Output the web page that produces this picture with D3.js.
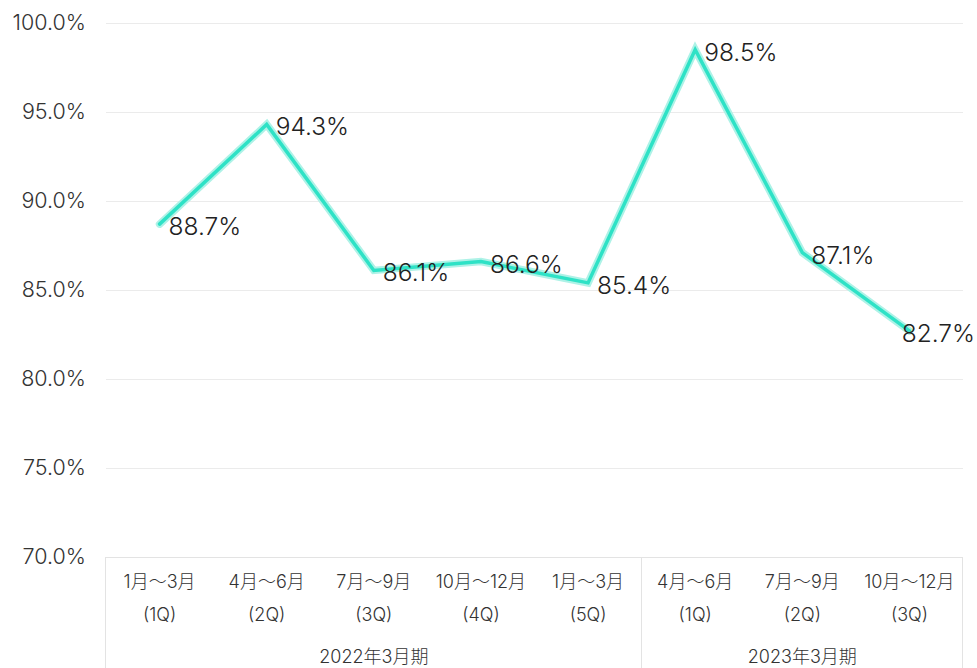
<!DOCTYPE html>
<html>
<head>
<meta charset="utf-8">
<script src="https://cdn.jsdelivr.net/npm/d3@7.9.0/dist/d3.min.js"></script>
<style>
  body { margin: 0; background: #fff; }
  svg { display: block; font-family: Inter, "Noto Sans CJK JP", sans-serif; }
</style>
</head>
<body>
<div id="chart"></div>
<script>
// ---------- DATA ----------
const quarters = ['1月～3月', '4月～6月', '7月～9月', '10月～12月', '1月～3月', '4月～6月', '7月～9月', '10月～12月'];
const quarterTags = ['(1Q)', '(2Q)', '(3Q)', '(4Q)', '(5Q)', '(1Q)', '(2Q)', '(3Q)'];
const values = [88.7, 94.3, 86.1, 86.6, 85.4, 98.5, 87.1, 82.7];
const periods = ['2022年3月期', '2023年3月期'];
const periodSpans = [5, 3];
const yTicks = [70, 75, 80, 85, 90, 95, 100];

// ---------- LAYOUT ----------
const width = 977;
const height = 668;
const margin = { top: 23, right: 14, bottom: 111, left: 106 };
const plot = {
  left: margin.left,
  right: width - margin.right,
  top: margin.top,
  bottom: height - margin.bottom,
};

const svg = d3.select('#chart')
  .append('svg')
  .attr('width', width)
  .attr('height', height);

const idx = d3.range(values.length);
const x = d3.scaleBand()
  .domain(idx)
  .range([plot.left, plot.right]);

const y = d3.scaleLinear()
  .domain([70, 100])
  .range([plot.bottom, plot.top]);

// --- gridlines
svg.append('g')
  .attr('class', 'grid')
  .attr('transform', `translate(${plot.left},0)`)
  .call(d3.axisLeft(y).tickValues(yTicks.filter((d) => d > 70)).tickFormat('').tickSize(-(plot.right - plot.left)))
  .call((g) => g.select('.domain').remove())
  .call((g) => g.selectAll('line').attr('stroke', '#ebebeb').attr('stroke-width', 1));

// --- y axis labels
svg.append('g')
  .attr('class', 'y-axis')
  .attr('transform', `translate(${plot.left},0)`)
  .call(d3.axisLeft(y).tickValues(yTicks).tickFormat((d) => d3.format('.1f')(d) + '%').tickSize(0).tickPadding(20))
  .call((g) => g.select('.domain').remove())
  .call((g) => g.selectAll('text')
    .attr('font-size', 21.5)
    .attr('font-weight', 300)
    .attr('fill', '#333')
    .attr('font-family', 'Inter, "Noto Sans CJK JP", sans-serif'));

// --- category box
const boxLines = svg.append('g').attr('stroke', '#e3e3e3').attr('stroke-width', 1).attr('fill', 'none');
boxLines.append('line')
  .attr('x1', plot.left).attr('x2', plot.right)
  .attr('y1', plot.bottom + 0.5).attr('y2', plot.bottom + 0.5);

const periodStarts = periodSpans.map((s, i) => d3.sum(periodSpans.slice(0, i)));
const edges = [...periodStarts.map((s) => x(s)), plot.right];
edges.forEach((ex) => {
  boxLines.append('line')
    .attr('x1', Math.round(ex) - 0.5).attr('x2', Math.round(ex) - 0.5)
    .attr('y1', plot.bottom).attr('y2', height);
});

// --- category labels
const cat = svg.append('g')
  .attr('font-size', 18)
  .attr('font-weight', 300)
  .attr('fill', '#333')
  .attr('text-anchor', 'middle');

cat.selectAll('text.q')
  .data(idx)
  .join('text')
  .attr('class', 'q')
  .attr('x', (i) => x(i) + x.bandwidth() / 2)
  .attr('y', plot.bottom + 31)
  .text((i) => quarters[i]);

cat.selectAll('text.t')
  .data(idx)
  .join('text')
  .attr('class', 't')
  .attr('x', (i) => x(i) + x.bandwidth() / 2)
  .attr('y', plot.bottom + 64)
  .text((i) => quarterTags[i]);

cat.selectAll('text.p')
  .data(periods)
  .join('text')
  .attr('class', 'p')
  .attr('x', (d, i) => (x(periodStarts[i]) + edges[i + 1]) / 2)
  .attr('y', plot.bottom + 106)
  .text((d) => d);

// --- line
const line = d3.line()
  .x((i) => x(i) + x.bandwidth() / 2)
  .y((i) => y(values[i]));

svg.append('path')
  .datum(idx)
  .attr('d', line)
  .attr('fill', 'none')
  .attr('stroke', '#aef2e7')
  .attr('stroke-width', 7.5)
  .attr('stroke-linejoin', 'miter')
  .attr('stroke-linecap', 'round');

svg.append('path')
  .datum(idx)
  .attr('d', line)
  .attr('fill', 'none')
  .attr('stroke', '#2ee2c6')
  .attr('stroke-width', 3.5)
  .attr('stroke-linejoin', 'miter')
  .attr('stroke-linecap', 'round');

// --- value labels (kept inside the right edge)
svg.append('g')
  .selectAll('text')
  .data(idx)
  .join('text')
  .attr('x', (i) => x(i) + x.bandwidth() / 2 + 9)
  .attr('y', (i) => y(values[i]) + 2)
  .attr('dominant-baseline', 'central')
  .attr('font-size', 24.5)
  .attr('font-weight', 300)
  .attr('fill', '#222')
  .text((i) => values[i].toFixed(1) + '%')
  .each(function () {
    const t = d3.select(this);
    const w = this.getComputedTextLength();
    const x0 = +t.attr('x');
    if (x0 + w > width - 2) t.attr('x', width - 2 - w);
  });
</script>
</body>
</html>
